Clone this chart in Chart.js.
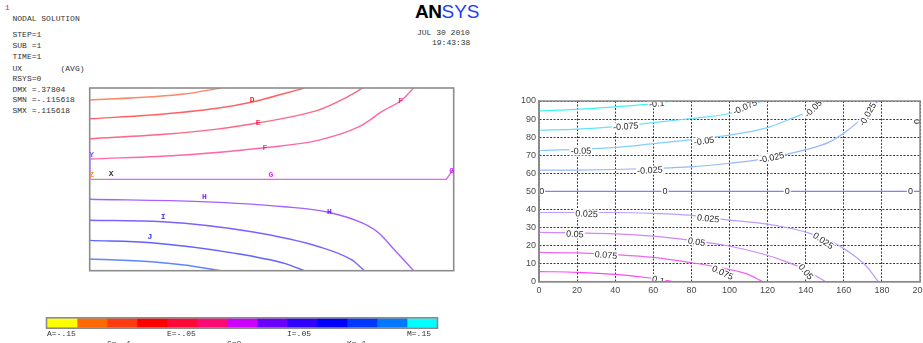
<!DOCTYPE html>
<html>
<head>
<meta charset="utf-8">
<script src="https://cdn.jsdelivr.net/npm/chart.js@4/dist/chart.umd.min.js"></script>
<style>
  html, body { margin: 0; padding: 0; background: #fff; width: 923px; height: 343px; overflow: hidden; position: relative; }
  .mono { position: absolute; font-family: "Liberation Mono", "DejaVu Sans Mono", monospace; font-size: 8px; line-height: 10px; color: #333; white-space: pre; }
  .logo { position: absolute; left: 415px; top: 1px; font-family: "Liberation Sans", Arial, sans-serif; font-size: 19px; line-height: 22px; white-space: pre; }
  .logo b { color: #000; font-weight: 900; letter-spacing: -0.5px; }
  .logo span { color: #2140f0; }
  canvas { position: absolute; }
</style>
</head>
<body>
<div class="mono" style="left:5px;top:3px;color:#e02020;">1</div>
<div class="mono" style="left:12.5px;top:14px;">NODAL SOLUTION</div>
<div class="mono" style="left:12.5px;top:30px;">STEP=1</div>
<div class="mono" style="left:12.5px;top:40.5px;">SUB =1</div>
<div class="mono" style="left:12.5px;top:52px;">TIME=1</div>
<div class="mono" style="left:12.5px;top:63.5px;">UX        (AVG)</div>
<div class="mono" style="left:12.5px;top:74px;">RSYS=0</div>
<div class="mono" style="left:12.5px;top:84.5px;">DMX =.37804</div>
<div class="mono" style="left:12.5px;top:95px;">SMN =-.115618</div>
<div class="mono" style="left:12.5px;top:106px;">SMX =.115618</div>
<div class="logo"><b>AN</b><span>SYS</span></div>
<div class="mono" style="left:417px;top:27.5px;">JUL 30 2010</div>
<div class="mono" style="left:432px;top:38px;">19:43:38</div>

<canvas id="ansys" width="380" height="200" style="left:85px;top:80px;"></canvas>
<canvas id="bands" width="410" height="33" style="left:40px;top:310px;"></canvas>
<canvas id="matlab" width="450" height="215" style="left:500px;top:90px;"></canvas>

<script>
// ---------------- Legend bands (UX contour levels) ----------------
const bandLetters = ['A','B','C','D','E','F','G','H','I','J','K','L','M'];
const bandEdges   = [-0.15,-0.125,-0.1,-0.075,-0.05,-0.025,0,0.025,0.05,0.075,0.1,0.125,0.15,0.175];
const bandColors  = ['#ffff00','#ff6a00','#ff3a10','#ff0000','#ff0a36','#ff0a72','#cc00ff',
                     '#6a00ff','#3000ff','#0000ff','#0038ff','#0078ff','#00ffff'];
const legendText  = ['A=-.15','C=-.1','E=-.05','G=0','I=.05','K=.1','M=.15'];
const legendLevel = [-0.15,-0.1,-0.05,0,0.05,0.1,0.15];
const legendRow   = [0,1,0,1,0,1,0];

// ---------------- ANSYS contour lines (x 0–200, y 0–100) ----------------
const ansysC = [[0,93.4],[34,95.2],[52,96.7],[72,100]];
const ansysD = [[0,83.2],[34,85.2],[70,88.9],[90,92.5],[107,97],[118,100]];
const ansysE = [[0,72.2],[43,74.8],[70,77.5],[93,81],[112,84.5],[126,88],[140,94.3],[150,100]];
const ansysF = [[0,61.1],[52,63.3],[96,67.3],[126,71.5],[148,78.8],[162,88],[171,93],[178,100]];
const ansysG = [[10,50],[196,50],[200,56]];
const ansysH = [[0,39.1],[61,37.8],[107,35],[131,32],[150,26],[159,20.5],[166,13],[178,0]];
const ansysI = [[0,27.6],[40,26.8],[89,21.3],[126,13.1],[144,5.9],[151,0]];
const ansysJ = [[0,16.6],[34,15.3],[80,9.5],[107,4],[118,0]];
const ansysK = [[0,6.4],[34,4.9],[52,3.1],[72,0]];
const ansysLines   = [ansysC, ansysD, ansysE, ansysF, ansysG, ansysH, ansysI, ansysJ, ansysK];
const ansysLetters = ['C','D','E','F','G','H','I','J','K'];

// letters written along the ANSYS lines
const ansysTagText = ['D','E','F','F','G','G','H','H','I','J'];
const ansysTagX    = [89.2, 92.5, 96.3, 170.9, 99.5, 198.9, 63, 131.7, 40.4, 33.1];
const ansysTagY    = [93.4, 81, 67.3, 92.9, 52.4, 54.7, 40.2, 32.3, 29.6, 18.6];

// ---------------- MATLAB contour lines (x 0–200, y 0–100) ----------------
const matlabLevels = [-0.1,-0.075,-0.05,-0.025,0,0.025,0.05,0.075,0.1];
const mN100 = [[0,94.5],[20,95.4],[40,96.8],[59,98.4],[70,100]];
const mN075 = [[0,83.8],[20,84.4],[40,85.8],[60,88],[80,90.3],[99,92.8],[108,95.5],[117,100]];
const mN050 = [[0,72.6],[20,73.2],[40,74.3],[60,76.4],[79,78.5],[99,81],[119,85],[133,90.5],[143,95],[150,100]];
const mN025 = [[0,61.7],[20,61.8],[40,62.1],[60,62.7],[79,63.5],[99,65.4],[118,68],[138,72.5],[153,77.5],[161,83],[168,89],[178,100]];
const mZero = [[0,50],[200,50]];
const mP025 = [[0,38.3],[20,38.3],[40,38.3],[60,37.8],[79,36.8],[99,34.2],[119,32],[133,29.3],[143,26.5],[153,22.5],[160,18.3],[166,14],[171,9.5],[175,4.5],[178,0]];
const mP050 = [[0,27.3],[20,27],[40,26.5],[60,25.2],[79,23],[99,19.9],[118,15.2],[130,11],[138,7.5],[144,4],[150.5,0]];
const mP075 = [[0,16.2],[20,15.9],[40,15],[60,13.5],[79,10.7],[99,7],[109,4.3],[117.5,0]];
const mP100 = [[0,5.6],[20,5.2],[40,4.1],[54,2.6],[64,1.2],[70,0]];
const matlabLines  = [mN100, mN075, mN050, mN025, mZero, mP025, mP050, mP075, mP100];
const matlabColors = ['#3ff2f6','#62e2fb','#82ceff','#96b8ff','#8080ff','#bc9cff','#d486f6','#ec66f0','#ff44ff'];

// inline level labels: text, x, y, angle (degrees)
const clabelText  = ['-0.1','-0.075','-0.075','-0.05','-0.05','-0.05','-0.025','-0.025','-0.025',
                     '0','0','0','0','0',
                     '0.025','0.025','0.025','0.05','0.05','0.05','0.075','0.075','0.1'];
const clabelX     = [61.8,45.5,108.1,22,86.6,143.9,58.2,122.1,172.5,
                     1.4,66.1,130.3,195,198.2,
                     25,88.8,149.2,18.9,82.7,140.1,35.2,96.4,62.6];
const clabelY     = [98.6,86,96.7,72.4,77.9,95.8,61.7,68.7,92.7,
                     50,50,50,50,88.6,
                     37.6,35,22.7,26.4,22.1,5.5,14.8,5,0.9];
const clabelAngle = [-5,-4,-25,-1,-8,-45,-3,-12,-60,
                     0,0,0,0,-90,
                     2,6,35,3,10,50,5,25,15];

// ---------------- helpers ----------------
function fade(hex, a) {
  const n = parseInt(hex.slice(1), 16);
  return `rgba(${(n >> 16) & 255},${(n >> 8) & 255},${n & 255},${a})`;
}
const toXY = pts => pts.map(p => ({ x: p[0], y: p[1] }));
const colorOf = letter => bandColors[bandLetters.indexOf(letter)];

Chart.defaults.animation = false;
Chart.defaults.responsive = false;
Chart.defaults.devicePixelRatio = 1;
Chart.defaults.plugins.legend.display = false;
Chart.defaults.plugins.tooltip.enabled = false;

// ---------------- ANSYS panel ----------------
const ansysDecor = {
  id: 'ansysDecor',
  afterDatasetsDraw(chart) {
    const { ctx, chartArea: a, scales: { x, y } } = chart;
    ctx.save();
    // frame
    ctx.strokeStyle = '#8c8c8c';
    ctx.lineWidth = 1.6;
    ctx.strokeRect(a.left, a.top, a.right - a.left, a.bottom - a.top);
    // coordinate triad
    const x0 = a.left + 0.5, y0 = y.getPixelForValue(50);
    ctx.lineWidth = 1.2;
    ctx.strokeStyle = '#9a9a9a';
    ctx.beginPath(); ctx.moveTo(x0, y0); ctx.lineTo(x.getPixelForValue(10), y0); ctx.stroke();
    ctx.strokeStyle = 'rgba(170,140,255,0.9)';
    ctx.beginPath(); ctx.moveTo(x0, y0); ctx.lineTo(x0, y0 - 27); ctx.stroke();
    ctx.font = 'bold 8px "Liberation Mono", monospace';
    ctx.textAlign = 'center';
    ctx.textBaseline = 'middle';
    ctx.fillStyle = '#7a5cff'; ctx.fillText('Y', x0 + 1.5, y0 - 24);
    ctx.fillStyle = '#ff8a2a'; ctx.fillText('Z', x0 + 1.5, y0 - 4.5);
    ctx.fillStyle = '#333';    ctx.fillText('X', x0 + 21, y0 - 5);
    // level letters on the lines
    ansysTagText.forEach((t, i) => {
      ctx.fillStyle = fade(colorOf(t), 0.85);
      ctx.fillText(t, x.getPixelForValue(ansysTagX[i]), y.getPixelForValue(ansysTagY[i]));
    });
    ctx.restore();
  }
};

new Chart(document.getElementById('ansys'), {
  type: 'scatter',
  data: {
    datasets: ansysLines.map((pts, i) => ({
      data: toXY(pts),
      showLine: true,
      borderColor: fade(colorOf(ansysLetters[i]), 0.62),
      borderWidth: 1.4,
      pointRadius: 0,
      cubicInterpolationMode: ansysLetters[i] === 'G' ? 'default' : 'monotone',
      tension: ansysLetters[i] === 'G' ? 0 : 0.4
    }))
  },
  options: {
    layout: { padding: { left: 4.7, right: 11.3, top: 8, bottom: 9.3 } },
    scales: {
      x: { type: 'linear', min: 0, max: 200, display: false },
      y: { type: 'linear', min: 0, max: 100, display: false }
    }
  },
  plugins: [ansysDecor]
});

// ---------------- legend bands ----------------
const bandDecor = {
  id: 'bandDecor',
  afterDraw(chart) {
    const { ctx, chartArea: a, scales: { x } } = chart;
    ctx.save();
    ctx.strokeStyle = '#8a8a8a';
    ctx.lineWidth = 1.6;
    ctx.strokeRect(a.left - 0.5, a.top - 0.5, a.right - a.left + 1, a.bottom - a.top + 1);
    ctx.font = '8px "Liberation Mono", monospace';
    ctx.fillStyle = '#333';
    ctx.textAlign = 'left';
    ctx.textBaseline = 'middle';
    legendText.forEach((t, i) => {
      const px = x.getPixelForValue(legendLevel[i]);
      ctx.fillText(t, px, legendRow[i] ? a.bottom + 16 : a.bottom + 6.5);
    });
    ctx.restore();
  }
};

new Chart(document.getElementById('bands'), {
  type: 'bar',
  data: {
    labels: ['UX'],
    datasets: bandLetters.map((l, i) => ({
      label: l,
      data: [[bandEdges[i], bandEdges[i + 1]]],
      backgroundColor: bandColors[i],
      borderWidth: 0,
      grouped: false,
      barPercentage: 1,
      categoryPercentage: 1
    }))
  },
  options: {
    indexAxis: 'y',
    layout: { padding: { left: 7, right: 13, top: 8.3, bottom: 15.3 } },
    scales: {
      x: { type: 'linear', min: -0.15, max: 0.175, display: false },
      y: { display: false }
    }
  },
  plugins: [bandDecor]
});

// ---------------- MATLAB panel ----------------
const matlabDecor = {
  id: 'matlabDecor',
  afterDatasetsDraw(chart) {
    const { ctx, chartArea: a, scales: { x, y } } = chart;
    ctx.save();
    ctx.beginPath();
    ctx.rect(a.left, a.top, a.right - a.left, a.bottom - a.top);
    ctx.clip();
    ctx.font = '9px "Liberation Sans", Arial, sans-serif';
    ctx.textAlign = 'center';
    ctx.textBaseline = 'middle';
    clabelText.forEach((t, i) => {
      const px = x.getPixelForValue(clabelX[i]);
      const py = y.getPixelForValue(clabelY[i]);
      const w = ctx.measureText(t).width;
      ctx.save();
      ctx.translate(px, py);
      ctx.rotate(clabelAngle[i] * Math.PI / 180);
      ctx.fillStyle = '#fff';
      ctx.fillRect(-w / 2 - 1, -4.5, w + 2, 9);
      ctx.fillStyle = '#2a2a2a';
      ctx.fillText(t, 0, 0.5);
      ctx.restore();
    });
    ctx.restore();
    // axes box
    ctx.save();
    ctx.strokeStyle = '#8a8a8a';
    ctx.lineWidth = 1.5;
    ctx.strokeRect(a.left, a.top, a.right - a.left, a.bottom - a.top);
    ctx.restore();
  }
};

const tickFont = { family: '"Liberation Sans", Arial, sans-serif', size: 9 };
new Chart(document.getElementById('matlab'), {
  type: 'scatter',
  data: {
    datasets: matlabLines.map((pts, i) => ({
      data: toXY(pts),
      showLine: true,
      borderColor: matlabColors[i],
      borderWidth: 1.2,
      pointRadius: 0,
      cubicInterpolationMode: 'monotone'
    }))
  },
  options: {
    layout: { padding: { left: 0, right: 30, top: 11, bottom: 0 } },
    scales: {
      x: {
        type: 'linear', min: 0, max: 200,
        ticks: { stepSize: 20, color: '#4a4a4a', font: tickFont, padding: 3, maxRotation: 0, autoSkip: false },
        grid: { color: 'rgba(25,25,25,0.85)', lineWidth: 1, drawTicks: false },
        border: { display: true, color: '#8a8a8a', width: 1.5, dash: [2, 1.5] },
        afterFit(s) { s.height = 23.3; }
      },
      y: {
        type: 'linear', min: 0, max: 100,
        ticks: { stepSize: 10, color: '#4a4a4a', font: tickFont, padding: 3, autoSkip: false },
        grid: { color: 'rgba(25,25,25,0.85)', lineWidth: 1, drawTicks: false },
        border: { display: true, color: '#8a8a8a', width: 1.5, dash: [2, 1.5] },
        afterFit(s) { s.width = 39; }
      }
    }
  },
  plugins: [matlabDecor]
});
</script>
</body>
</html>
